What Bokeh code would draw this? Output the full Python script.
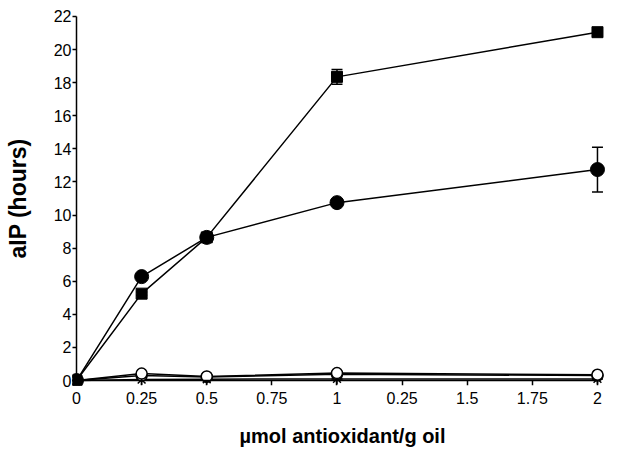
from bokeh.plotting import figure
from bokeh.models import Range1d, FixedTicker, Whisker, ColumnDataSource, LinearAxis
from bokeh.embed import file_html
from bokeh.resources import INLINE

# data
conc = [0, 0.25, 0.5, 1, 2]
sq_vals = [0.0, 5.25, 8.65, 18.35, 21.05]
sq_err = [0.0, 0.1, 0.15, 0.45, 0.25]
ci_vals = [0.0, 6.28, 8.65, 10.75, 12.75]
ci_err = [0.0, 0.1, 0.15, 0.1, 1.35]
open_vals = [0.0, 0.42, 0.25, 0.45, 0.35]
cross_vals = [0.0, 0.3, 0.22, 0.38, 0.3]
star_vals = [0.0, 0.06, 0.08, 0.1, 0.1]

x_ticks = [0, 0.25, 0.5, 0.75, 1, 1.25, 1.5, 1.75, 2]
x_tick_labels = ["0", "0.25", "0.5", "0.75", "1", "0.25", "1.5", "1.75", "2"]
y_ticks = list(range(0, 23, 2))

FONT = "Liberation Sans"

p = figure(width=636, height=449, output_backend="svg", toolbar_location=None,
           x_range=Range1d(-0.0154, 2.0577), y_range=Range1d(-0.3, 22.3),
           min_border_left=72, min_border_right=24, min_border_top=11, min_border_bottom=64)
p.outline_line_color = None
p.grid.grid_line_color = None

# label-only axes at the frame edges
for ax in (p.xaxis, p.yaxis):
    ax.axis_line_color = None
    ax.major_tick_line_color = None
    ax.minor_tick_line_color = None
    ax.major_tick_out = 0
    ax.major_tick_in = 0
    ax.major_label_text_font = FONT
    ax.major_label_text_font_size = "16px"
    ax.major_label_text_color = "black"
    ax.axis_label_text_font = FONT
    ax.axis_label_text_font_style = "bold"
    ax.axis_label_text_color = "black"

p.xaxis.ticker = FixedTicker(ticks=x_ticks)
p.xaxis.major_label_overrides = {t: l for t, l in zip(x_ticks, x_tick_labels)}
p.xaxis.axis_label = "µmol antioxidant/g oil"
p.xaxis.axis_label_text_font_size = "20px"
p.xaxis.major_label_standoff = 6
p.xaxis.axis_label_standoff = 18

p.yaxis.ticker = FixedTicker(ticks=y_ticks)
p.yaxis.axis_label = "aIP (hours)"
p.yaxis.axis_label_text_font_size = "23px"
p.yaxis.major_label_standoff = 1
p.yaxis.axis_label_standoff = 20

# axis lines and ticks crossing at zero (panels placed on the unused sides)
def line_axis(ticks, bnds):
    a = LinearAxis(fixed_location=0, ticker=FixedTicker(ticks=ticks), bounds=bnds)
    a.axis_line_width = 1.5
    a.axis_line_color = "black"
    a.major_tick_line_width = 1.5
    a.major_tick_line_color = "black"
    a.major_tick_out = 0
    a.major_tick_in = 5
    a.minor_tick_line_color = None
    a.major_label_text_font_size = "0px"
    a.major_label_text_color = None
    a.major_label_standoff = 0
    return a

p.add_layout(line_axis(x_ticks, (0, 2)), "above")
p.add_layout(line_axis(y_ticks, (0, 22)), "right")

# low series
p.line(conc, star_vals, line_color="black", line_width=1.5)
p.asterisk(conc, star_vals, size=11, line_color="black", line_width=1.5)
p.line(conc, cross_vals, line_color="black", line_width=1.5)
p.circle_cross(conc, cross_vals, size=11, line_color="black", fill_color="white", line_width=1.5)
p.line(conc, open_vals, line_color="black", line_width=1.5)
p.scatter(conc, open_vals, marker="circle", size=11, line_color="black", fill_color="white", line_width=1.5)

# main series
p.line(conc, sq_vals, line_color="black", line_width=1.5)
p.scatter(conc, sq_vals, marker="square", size=11, color="black")
p.line(conc, ci_vals, line_color="black", line_width=1.5)
p.scatter(conc, ci_vals, marker="circle", size=14, color="black")

def add_err(vals, errs):
    src = ColumnDataSource(dict(x=conc, lo=[v - e for v, e in zip(vals, errs)],
                                hi=[v + e for v, e in zip(vals, errs)]))
    w = Whisker(base="x", lower="lo", upper="hi", source=src, line_color="black",
                line_width=1.5, level="overlay")
    w.upper_head.size = 11
    w.lower_head.size = 11
    w.upper_head.line_width = 1.5
    w.lower_head.line_width = 1.5
    p.add_layout(w)

add_err(sq_vals, sq_err)
add_err(ci_vals, ci_err)

open("out.html", "w").write(file_html(p, INLINE))
